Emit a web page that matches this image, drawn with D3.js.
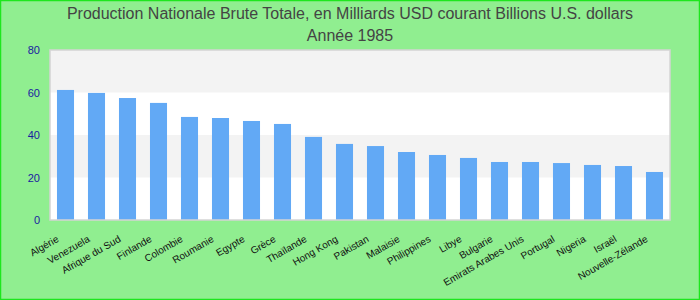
<!DOCTYPE html>
<html>
<head>
<meta charset="utf-8">
<script src="https://cdn.jsdelivr.net/npm/d3@7"></script>
<style>
  body { margin: 0; background: #fff; }
  svg { display: block; font-family: "Liberation Sans", Arial, sans-serif; }
</style>
</head>
<body>
<svg id="chart" width="700" height="300"></svg>
<script>
(function () {
    'use strict';

    var titleLines = ['Production Nationale Brute Totale, en Milliards USD courant Billions U.S. dollars',
                      'Année 1985'];
    var countries = ['Algérie', 'Venezuela', 'Afrique du Sud', 'Finlande', 'Colombie', 'Roumanie',
                     'Egypte', 'Grèce', 'Thaïlande', 'Hong Kong', 'Pakistan', 'Malaisie',
                     'Philippines', 'Libye', 'Bulgarie', 'Emirats Arabes Unis', 'Portugal',
                     'Nigeria', 'Israël', 'Nouvelle-Zélande'];
    var gnp = [61.2, 59.8, 57.4, 55.1, 48.5, 48.0, 46.6, 45.2, 39.1, 35.8, 34.8, 32.0,
               30.6, 29.2, 27.3, 27.3, 26.8, 25.9, 25.4, 22.6];
    var yTicks = [0, 20, 40, 60, 80];

    var svg = d3.select('#chart'),
        W = 700, H = 300,
        m = {top: 50, right: 30, bottom: 80, left: 50},
        w = W - m.left - m.right,
        h = H - m.top - m.bottom;

    // background + green frame
    svg.append('rect')
        .attr('x', 0.5).attr('y', 0.5)
        .attr('width', W - 1).attr('height', H - 1)
        .style('fill', '#90ee90')
        .style('stroke', '#1ee61e')
        .style('stroke-width', 1.5);

    svg.selectAll('text.title')
        .data(titleLines)
        .enter().append('text')
        .attr('class', 'title')
        .attr('x', W / 2)
        .attr('y', function (d, i) { return 19 + i * 22; })
        .attr('text-anchor', 'middle')
        .style('font-size', '16px')
        .style('fill', '#444')
        .text(function (d) { return d; });

    var x = d3.scaleBand().domain(countries).range([0, w]).paddingInner(0.45).paddingOuter(0.225);
    var y = d3.scaleLinear().domain([0, 80]).range([h, 0]);

    var g = svg.append('g').attr('transform', 'translate(' + m.left + ',' + m.top + ')');

    // plot background with alternating bands
    g.append('rect')
        .attr('width', w).attr('height', h)
        .style('fill', '#fff');

    var bands = d3.pairs(yTicks);
    g.selectAll('rect.band')
        .data(bands)
        .enter().append('rect')
        .attr('class', 'band')
        .attr('x', 0)
        .attr('width', w)
        .attr('y', function (d) { return y(d[1]); })
        .attr('height', function (d) { return y(d[0]) - y(d[1]); })
        .style('fill', function (d, i) { return i % 2 ? '#f3f3f3' : '#fff'; });

    g.selectAll('rect.bar')
        .data(gnp)
        .enter().append('rect')
        .attr('class', 'bar')
        .attr('x', function (d, i) { return x(countries[i]); })
        .attr('width', x.bandwidth())
        .attr('y', function (d) { return y(d); })
        .attr('height', function (d) { return h - y(d); })
        .style('fill', '#62a9f5');

    // plot border
    g.append('rect')
        .attr('x', 0).attr('y', 0)
        .attr('width', w).attr('height', h)
        .style('fill', 'none')
        .style('stroke', '#d4d4d4')
        .style('stroke-width', 1.5);

    var yAxis = g.append('g')
        .call(d3.axisLeft(y).tickValues(yTicks).tickSize(0).tickPadding(10));
    yAxis.select('.domain').remove();
    yAxis.selectAll('text')
        .style('font-size', '11px')
        .style('font-family', '"Liberation Sans", Arial, sans-serif')
        .style('fill', '#1a1aa0');

    var xAxis = g.append('g')
        .attr('transform', 'translate(0,' + h + ')')
        .call(d3.axisBottom(x).tickSize(0).tickPadding(0));
    xAxis.select('.domain').remove();
    xAxis.selectAll('text')
        .attr('text-anchor', 'end')
        .attr('dy', 0)
        .attr('transform', 'translate(-6,21) rotate(-30)')
        .style('font-size', '10px')
        .style('font-family', '"Liberation Sans", Arial, sans-serif')
        .style('fill', '#111');
}());
</script>
</body>
</html>
